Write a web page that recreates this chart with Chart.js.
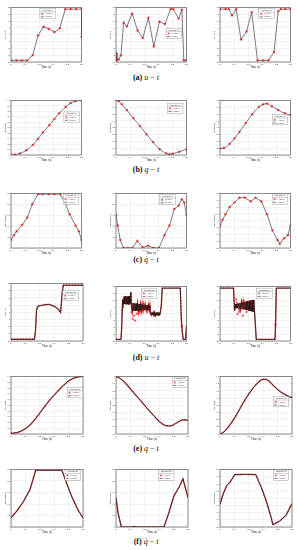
<!DOCTYPE html>
<html><head><meta charset="utf-8">
<script src="https://cdn.jsdelivr.net/npm/chart.js@4"></script>
<style>
body{margin:0;background:#fff;width:297px;height:550px;position:relative;overflow:hidden}
canvas{position:absolute}
.cap{position:absolute;left:0;width:292px;text-align:center;font:8px "Liberation Serif",serif;color:#111;white-space:nowrap;line-height:10px}
.cap b{font-weight:bold}
.cap i{font-style:italic}
</style></head><body>
<script>
// ---------- tick labels ----------
const timeTicks = [0, 0.1, 0.2, 0.3, 0.4, 0.5];
const uRange = [-20, 20, 5];
const q1Range = [0, 1, 0.1];
const q2Range = [-0.8, 0, 0.1];
const q3Range = [0.2, 1.8, 0.2];
const q3bRange = [0, 1.6, 0.2];
const dq1Range = [0, 2.5, 0.5];
const dq2Range = [0, 2.5, 0.5];
const dq3Range = [-2, 2, 0.5];

// ---------- (a) u - t ----------
const a1T = [0, 0.038, 0.077, 0.115, 0.154, 0.192, 0.231, 0.269, 0.308, 0.346, 0.385, 0.423, 0.462, 0.5, 0.5];
const a1U = [-18.8, -18.8, -18.8, -18.8, -15.1, -0.5, 5.9, 4.2, 1.9, 4.7, 18.8, 18.8, 18.8, 18.8, -1.6];
const a2T = [0, 0.007, 0.019, 0.035, 0.054, 0.077, 0.115, 0.153, 0.190, 0.230, 0.268, 0.308, 0.347, 0.387, 0.406, 0.444, 0.467, 0.481, 0.5];
const a2U = [-13.4, -18.8, -18.1, -15.1, 8.9, 6.1, 15.5, 3.1, -2.4, 12.5, -8.7, 9.6, 7.8, 18.8, 18.8, 11.8, 18.4, -18.8, -18.8];
const a3T = [0, 0.039, 0.064, 0.085, 0.115, 0.149, 0.188, 0.225, 0.266, 0.305, 0.344, 0.383, 0.413, 0.431, 0.463, 0.5];
const a3U = [18.8, 18.8, 18.8, 14.1, 18.8, -3.5, 2.4, 16.5, -18.8, -18.8, -18.8, -12.7, 17.2, 18.8, 18.8, 18.8];

// ---------- (b) q - t ----------
const b1T = [0, 0.028, 0.063, 0.109, 0.156, 0.191, 0.226, 0.272, 0.307, 0.342, 0.388, 0.423, 0.458, 0.5];
const b1Q = [0, 0.006, 0.029, 0.088, 0.188, 0.294, 0.412, 0.547, 0.659, 0.765, 0.882, 0.953, 0.988, 1.0];
const b2T = [0, 0.019, 0.042, 0.077, 0.123, 0.170, 0.216, 0.263, 0.309, 0.356, 0.379, 0.402, 0.449, 0.5];
const b2Q = [0, -0.009, -0.056, -0.141, -0.259, -0.376, -0.494, -0.612, -0.715, -0.776, -0.791, -0.781, -0.753, -0.715];
const b3T = [0, 0.028, 0.069, 0.103, 0.138, 0.183, 0.229, 0.275, 0.305, 0.333, 0.367, 0.413, 0.459, 0.5];
const b3Q = [0.388, 0.407, 0.529, 0.689, 0.878, 1.141, 1.395, 1.612, 1.687, 1.706, 1.631, 1.518, 1.424, 1.376];

// ---------- (c) dq - t ----------
const c1T = [0, 0.021, 0.040, 0.079, 0.116, 0.151, 0.191, 0.226, 0.267, 0.307, 0.349, 0.381, 0.416, 0.458, 0.481, 0.5];
const c1V = [0.368, 0.588, 0.765, 1.059, 1.397, 2.006, 2.47, 2.47, 2.47, 2.47, 2.47, 2.088, 1.544, 1.029, 0.765, 0.368];
const c2T = [0, 0.012, 0.030, 0.053, 0.084, 0.116, 0.151, 0.188, 0.228, 0.267, 0.305, 0.344, 0.379, 0.414, 0.444, 0.467, 0.484, 0.5];
const c2V = [1.515, 1.029, 0.368, 0, 0, 0, 0.324, 0.029, 0.103, 0, 0, 0.588, 1.029, 1.794, 1.941, 2.235, 2.088, 1.515];
const c3T = [0, 0.018, 0.039, 0.069, 0.103, 0.138, 0.177, 0.218, 0.252, 0.294, 0.333, 0.372, 0.408, 0.424, 0.454, 0.482, 0.5];
const c3V = [-0.353, 0.071, 0.471, 1.012, 1.341, 1.694, 1.694, 1.412, 1.694, 1.412, 0.471, -0.706, -1.412, -1.694, -1.294, -1.059, -0.353];

// ---------- (d) u - t ----------
const d1T = [0, 0.163, 0.170, 0.177, 0.184, 0.198, 0.214, 0.237, 0.26, 0.284, 0.307, 0.330, 0.344, 0.349, 0.356, 0.363, 0.5];
const d1U = [-18.8, -18.8, -13.3, 0.95, 4.05, 4.5, 4.8, 5.2, 5.5, 4.8, 3.8, 1.9, 0, 5.7, 14.0, 18.8, 18.8];
const d2T = [0, 0.035, 0.040, 0.047, 0.052, 0.057, 0.062, 0.067, 0.072, 0.077, 0.082, 0.087, 0.092, 0.097, 0.101, 0.105, 0.109,
  0.115, 0.120, 0.126, 0.131, 0.137, 0.142, 0.148, 0.153, 0.159, 0.164, 0.170, 0.175, 0.181, 0.186, 0.192, 0.197, 0.203, 0.208, 0.214, 0.219, 0.225, 0.230, 0.236, 0.240,
  0.244, 0.249, 0.254, 0.259, 0.264, 0.269, 0.274, 0.279, 0.284, 0.289, 0.294, 0.299, 0.304, 0.309, 0.314,
  0.321, 0.328, 0.456, 0.463, 0.470, 0.477, 0.493, 0.5];
const d2U = [-18.8, -18.8, -11.0, 10.5, 7.0, 12.5, 7.2, 12.9, 6.9, 12.7, 7.1, 13.0, 6.8, 12.6, 7.5, 15.7, 6.0,
  1.8, 7.9, 2.2, 7.6, 2.0, 7.5, 2.3, 7.4, 2.1, 7.2, 2.4, 7.0, 2.5, 6.8, 2.6, 6.6, 2.7, 6.5, 2.8, 6.4, 2.9, 6.3, 3.0, 6.0,
  1.0, -0.8, 0.9, -1.0, 0.8, -1.1, 0.9, -1.2, 0.8, -1.2, 0.9, -1.3, 1.0, -1.1, 0.5,
  5.7, 18.8, 18.8, -3.8, -13.3, -18.8, -18.8, -8.6];
const d2RedT = [0.044, 0.112, 0.119, 0.128, 0.135, 0.147, 0.158, 0.170, 0.466];
const d2RedU = [2.5, 0.95, -3.8, -1.4, -5.0, -0.2, 0.95, 1.9, -9.0];
const d3T = [0, 0.096, 0.103, 0.108, 0.113, 0.119, 0.124, 0.130, 0.135, 0.141, 0.146, 0.152, 0.157, 0.163, 0.168, 0.174, 0.179, 0.185, 0.190, 0.196, 0.201, 0.207, 0.212, 0.218, 0.223, 0.229, 0.234, 0.240, 0.245,
  0.252, 0.257, 0.390, 0.394, 0.399, 0.5];
const d3U = [18.8, 18.8, 2.0, 7.1, 4.0, 7.3, 4.1, 7.5, 3.9, 7.8, 3.7, 8.1, 3.5, 8.3, 3.2, 8.6, 3.0, 8.9, 2.7, 9.2, 2.4, 9.5, 2.1, 9.8, 1.8, 10.0, 1.5, 10.2, 1.3,
  -10.0, -18.8, -18.8, -8.6, 18.8, 18.8];
const d3RedT = [0.115, 0.119, 0.124, 0.138, 0.147, 0.161, 0.170, 0.188, 0.200, 0.211, 0.392];
const d3RedU = [10.5, 8.1, -0.2, 1.4, 3.3, -1.4, 9.3, 1.4, 6.9, 3.3, -8.0];

// ---------- (e) q - t ----------
const e1T = [0, 0.040, 0.086, 0.133, 0.179, 0.226, 0.272, 0.319, 0.365, 0.412, 0.458, 0.5];
const e1Q = [0.012, 0.024, 0.071, 0.159, 0.294, 0.453, 0.6, 0.729, 0.847, 0.941, 0.988, 1.0];
const e2T = [0, 0.030, 0.077, 0.123, 0.170, 0.216, 0.263, 0.309, 0.344, 0.379, 0.414, 0.449, 0.477, 0.5];
const e2Q = [0, -0.028, -0.118, -0.226, -0.334, -0.442, -0.546, -0.640, -0.682, -0.687, -0.654, -0.612, -0.602, -0.612];
const e3T = [0, 0.023, 0.069, 0.115, 0.161, 0.206, 0.252, 0.287, 0.310, 0.333, 0.367, 0.413, 0.459, 0.5];
const e3Q = [0, 0.047, 0.254, 0.536, 0.866, 1.148, 1.384, 1.506, 1.525, 1.496, 1.365, 1.195, 1.082, 1.007];

// ---------- (f) dq - t ----------
const f1T = [0, 0.040, 0.086, 0.133, 0.172, 0.353, 0.388, 0.423, 0.463, 0.5];
const f1V = [0.397, 0.691, 1.103, 1.647, 2.47, 2.47, 1.868, 1.309, 0.765, 0.397];
const f2T = [0, 0.014, 0.037, 0.120, 0.125, 0.130, 0.333, 0.367, 0.402, 0.437, 0.465, 0.5];
const f2V = [1.279, 0.618, 0, 0, 0.04, 0, 0, 0.618, 1.353, 1.721, 2.088, 1.279];
const f3T = [0, 0.023, 0.046, 0.069, 0.103, 0.175, 0.248, 0.287, 0.321, 0.356, 0.367, 0.413, 0.459, 0.5];
const f3V = [-0.424, 0.329, 0.871, 1.106, 1.647, 1.66, 1.647, 0.753, -0.188, -1.365, -1.835, -1.6, -1.176, -0.376];

const captions = [
  ['(a)', 'u', ''], ['(b)', 'q', ''], ['(c)', 'q\u0307', ''],
  ['(d)', 'u', ''], ['(e)', 'q', ''], ['(f)', 'q\u0307', '']
];
const legendTitles = ['Position 1B', 'Position 2B'];
const seriesNames = ['FTMPC', 'ESMPC'];

// ---------- layout ----------
const colLeft = [11, 116, 220];
const rowTop = [4, 97, 190, 283, 376, 469];
const capY = [78.3, 170.3, 260.3, 357.5, 449.3, 541.7];
const PW = 72, PH = 57;
const FONT = 'Liberation Serif';

const plots = [
  {r:0,c:0,t:a1T,y:a1U,yr:uRange,yl:'u1 (V)',k:'s',lg:[0.41,0.02]},
  {r:0,c:1,t:a2T,y:a2U,yr:uRange,yl:'u2 (V)',k:'s',lg:[0.71,0.38]},
  {r:0,c:2,t:a3T,y:a3U,yr:uRange,yl:'u3 (V)',k:'s',lg:[0.55,0.02]},
  {r:1,c:0,t:b1T,y:b1Q,yr:q1Range,yl:'q1 (rad)',k:'s',sm:1,lg:[0.75,0.21]},
  {r:1,c:1,t:b2T,y:b2Q,yr:q2Range,yl:'q2 (rad)',k:'s',sm:1,lg:[0.73,0.05]},
  {r:1,c:2,t:b3T,y:b3Q,yr:q3Range,yl:'q3 (rad)',k:'s',sm:1,lg:[0.74,0.26]},
  {r:2,c:0,t:c1T,y:c1V,yr:dq1Range,yl:'dq1 (rad/s)',k:'s',lg:[0.74,0.01]},
  {r:2,c:1,t:c2T,y:c2V,yr:dq2Range,yl:'dq2 (rad/s)',k:'s',lg:[0.62,0.02]},
  {r:2,c:2,t:c3T,y:c3V,yr:dq3Range,yl:'dq3 (rad/s)',k:'s',lg:[0.74,0.01]},
  {r:3,c:0,t:d1T,y:d1U,yr:uRange,yl:'u1 (V)',k:'d',lg:[0.72,0.12]},
  {r:3,c:1,t:d2T,y:d2U,yr:uRange,yl:'u2 (V)',k:'d',rt:d2RedT,ry:d2RedU,lg:[0.36,0.03]},
  {r:3,c:2,t:d3T,y:d3U,yr:uRange,yl:'u3 (V)',k:'d',rt:d3RedT,ry:d3RedU,lg:[0.52,0.03]},
  {r:4,c:0,t:e1T,y:e1Q,yr:q1Range,yl:'q1 (rad)',k:'d',sm:1,lg:[0.78,0.19]},
  {r:4,c:1,t:e2T,y:e2Q,yr:q2Range,yl:'q2 (rad)',k:'d',sm:1,lg:[0.78,0.01]},
  {r:4,c:2,t:e3T,y:e3Q,yr:q3bRange,yl:'q3 (rad)',k:'d',sm:1,lg:[0.74,0.35]},
  {r:5,c:0,t:f1T,y:f1V,yr:dq1Range,yl:'dq1 (rad/s)',k:'d',lg:[0.75,0.01]},
  {r:5,c:1,t:f2T,y:f2V,yr:dq2Range,yl:'dq2 (rad/s)',k:'d',lg:[0.59,0.01]},
  {r:5,c:2,t:f3T,y:f3V,yr:dq3Range,yl:'dq3 (rad/s)',k:'d',lg:[0.74,0.01]}
];

const boxPlugin = {
  id: 'box',
  afterDatasetsDraw(chart, args, o) {
    const {ctx, chartArea: a} = chart;
    ctx.save();
    ctx.strokeStyle = '#444'; ctx.lineWidth = 0.6;
    ctx.strokeRect(a.left, a.top, a.width, a.height);
    const w = 15.5, h = 10.2;
    const x = a.left + o.fx * a.width, y = a.top + o.fy * a.height;
    ctx.fillStyle = '#fff'; ctx.fillRect(x, y, w, h);
    ctx.strokeStyle = '#888'; ctx.lineWidth = 0.4; ctx.strokeRect(x, y, w, h);
    ctx.beginPath(); ctx.moveTo(x, y + 3.4); ctx.lineTo(x + w, y + 3.4); ctx.stroke();
    ctx.font = '2.3px "' + FONT + '"'; ctx.fillStyle = '#222';
    ctx.textBaseline = 'middle'; ctx.textAlign = 'center';
    ctx.fillText(o.title, x + w / 2, y + 1.8);
    ctx.textAlign = 'left';
    const sy1 = y + 5.3, sy2 = y + 8.3, sx = x + 2.5;
    ctx.strokeStyle = '#e00'; ctx.lineWidth = 0.4;
    ctx.beginPath();
    for (let i = 0; i < 4; i++) {
      const ang = i * Math.PI / 4;
      ctx.moveTo(sx - Math.cos(ang), sy1 - Math.sin(ang));
      ctx.lineTo(sx + Math.cos(ang), sy1 + Math.sin(ang));
    }
    ctx.stroke();
    ctx.fillText(o.labels[0], x + 5, sy1);
    ctx.strokeStyle = '#222'; ctx.lineWidth = 0.6;
    ctx.beginPath(); ctx.moveTo(x + 1, sy2); ctx.lineTo(x + 4, sy2); ctx.stroke();
    ctx.fillText(o.labels[1], x + 5, sy2);
    ctx.restore();
  }
};

const yW = 9, xH = 7, padT = 1.5, padR = 3;

function pts(t, y) { return t.map((v, i) => ({x: v, y: y[i]})); }

plots.forEach(p => {
  const L = colLeft[p.c], T = rowTop[p.r];
  const cv = document.createElement('canvas');
  cv.width = yW + PW + padR; cv.height = Math.ceil(padT + PH + xH);
  cv.style.left = (L - yW) + 'px'; cv.style.top = (T - padT) + 'px';
  document.body.appendChild(cv);
  const data = pts(p.t, p.y);
  let datasets;
  if (p.k === 's') {
    datasets = [
      {label: seriesNames[0], data, showLine: false, pointStyle: 'star', pointRadius: 1.3, borderColor: '#e00', borderWidth: 0.5, order: 0},
      {label: seriesNames[1], data, borderColor: '#444', borderWidth: 0.7, pointRadius: 0, order: 1,
       cubicInterpolationMode: p.sm ? 'monotone' : 'default', tension: p.sm ? 0.4 : 0}
    ];
  } else {
    datasets = [
      {label: seriesNames[1], data, borderColor: '#1a1a1a', borderWidth: 0.75, pointRadius: 0, order: 0,
       cubicInterpolationMode: p.sm ? 'monotone' : 'default', tension: p.sm ? 0.4 : 0},
      {label: seriesNames[0], data, borderColor: '#d40000', borderWidth: 1.4, borderDash: [1, 0.5], pointRadius: 0, order: 2,
       cubicInterpolationMode: p.sm ? 'monotone' : 'default', tension: p.sm ? 0.4 : 0}
    ];
    if (p.rt) datasets.push({label: seriesNames[0], data: pts(p.rt, p.ry), showLine: false, pointStyle: 'star', pointRadius: 1.2, borderColor: '#f22', borderWidth: 0.5, order: 1});
  }
  const [ymin, ymax, ystep] = p.yr;
  new Chart(cv, {
    type: 'line',
    data: {datasets},
    plugins: [boxPlugin],
    options: {
      responsive: false, animation: false, events: [],
      layout: {padding: {top: padT, right: padR, left: 0, bottom: 0}},
      plugins: {legend: {display: false}, tooltip: {enabled: false},
        box: {fx: p.lg[0], fy: p.lg[1], title: legendTitles[p.r < 3 ? 0 : 1], labels: seriesNames}},
      scales: {
        x: {type: 'linear', min: 0, max: 0.5,
          afterBuildTicks: s => { s.ticks = timeTicks.map(v => ({value: v})); },
          ticks: {font: {size: 2.6, family: FONT}, color: '#222', padding: 0.8, maxRotation: 0, autoSkip: false, callback: v => String(v)},
          grid: {color: '#dedede', lineWidth: 0.4, drawTicks: false},
          border: {display: false},
          title: {display: true, text: 'Time (s)', font: {size: 3, family: FONT, lineHeight: 1}, padding: 0, color: '#222'},
          afterFit: s => { s.height = xH; s.paddingLeft = 0; s.paddingRight = 0; }
        },
        y: {type: 'linear', min: ymin, max: ymax,
          ticks: {stepSize: ystep, font: {size: 2.4, family: FONT}, color: '#222', padding: 0.8, autoSkip: false},
          grid: {color: '#dedede', lineWidth: 0.4, drawTicks: false},
          border: {display: false},
          title: {display: true, text: p.yl, font: {size: 2.8, family: FONT, lineHeight: 1}, padding: {top: 2, bottom: 0}, color: '#222'},
          afterFit: s => { s.width = yW; s.paddingTop = 0; s.paddingBottom = 0; }
        }
      }
    }
  });
});

captions.forEach((c, i) => {
  const d = document.createElement('div');
  d.className = 'cap';
  d.style.top = (capY[i] - 5) + 'px';
  d.innerHTML = '<b>' + c[0] + '</b> <i>' + c[1] + '</i> \u2212 <i>t</i>';
  document.body.appendChild(d);
});
</script>
</body></html>
